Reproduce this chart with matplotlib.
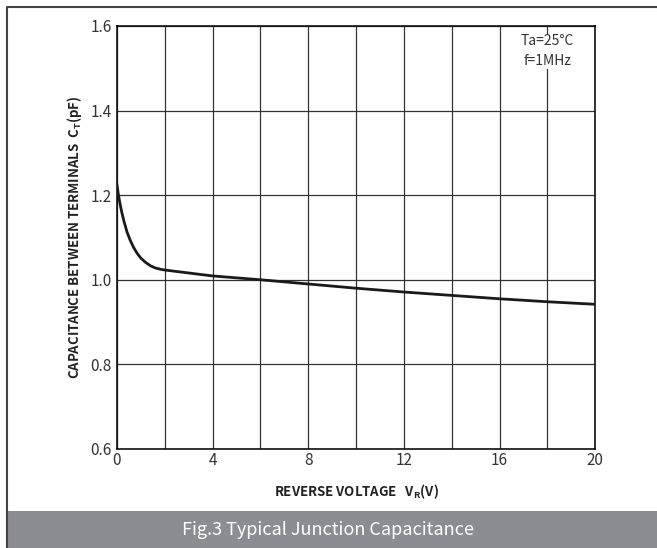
import matplotlib
matplotlib.use("Agg")
import matplotlib.pyplot as plt
from matplotlib.patches import Rectangle
from matplotlib.lines import Line2D

plt.rcParams["font.family"] = ["Noto Sans CJK SC", "DejaVu Sans"]

# curve
voltage = [0, 0.05, 0.12, 0.2, 0.3, 0.42, 0.55, 0.7, 0.85, 1.0, 1.2, 1.4, 1.6, 1.8,
           2.0, 3.0, 4.0, 6.0, 8.0, 10.0, 12.0, 14.0, 16.0, 18.0, 20.0]
capacitance = [1.224, 1.205, 1.182, 1.16, 1.137, 1.113, 1.094, 1.076, 1.062, 1.051,
               1.041, 1.033, 1.028, 1.025, 1.023, 1.016, 1.009, 1.0, 0.99, 0.98,
               0.971, 0.963, 0.955, 0.948, 0.942]

x_ticks = [0, 4, 8, 12, 16, 20]
y_ticks = [0.6, 0.8, 1.0, 1.2, 1.4, 1.6]

fig = plt.figure(figsize=(6.57, 5.48), dpi=100)
ax = fig.add_axes([0.178, 0.1807, 0.728, 0.772])

ax.plot(voltage, capacitance, color="#1a1a1a", lw=2.0, zorder=3)

ax.set_xlim(0, 20)
ax.set_ylim(0.6, 1.6)
ax.set_xticks(x_ticks)
ax.set_xticks(range(0, 21, 2), minor=True)
ax.set_yticks(y_ticks)
ax.set_xticklabels([str(t) for t in x_ticks])
ax.set_yticklabels(["%.1f" % t for t in y_ticks])
ax.grid(True, which="both", axis="x", color="#333333", lw=0.9)
ax.grid(True, which="major", axis="y", color="#333333", lw=0.9)
ax.tick_params(which="both", length=0, labelsize=11, colors="#333333")
ax.tick_params(axis="x", pad=2)
ax.tick_params(axis="y", pad=4)
for sp in ax.spines.values():
    sp.set_color("#111111")
    sp.set_linewidth(1.2)

ax.set_xlabel(r"REVERSE VOLTAGE   V$_\mathregular{R}$(V)", fontsize=9.5,
              fontweight="bold", color="#222222", labelpad=10)
ax.set_ylabel(r"CAPACITANCE BETWEEN TERMINALS  C$_\mathregular{T}$(pF)", fontsize=9.5,
              fontweight="bold", color="#222222", labelpad=4)

ax.text(18, 1.54, "Ta=25°C\nf=1MHz", ha="center", va="center", fontsize=10,
        color="#333333", linespacing=1.55, zorder=4,
        bbox=dict(facecolor="white", edgecolor="none", pad=0.5))

# caption band and frame
fig.patches.append(Rectangle((7 / 657, 0), 1, 37 / 548, transform=fig.transFigure,
                             facecolor="#8c8d92", edgecolor="none"))
fig.text(0.5, 18 / 548, "Fig.3 Typical Junction Capacitance", ha="center",
         va="center", color="white", fontsize=13)
fig.lines.append(Line2D([6.5 / 657, 6.5 / 657, 1], [0, 1 - 6.5 / 548, 1 - 6.5 / 548],
                        transform=fig.transFigure, color="#444444", lw=1.5))

fig.savefig("out.png", dpi=100)
